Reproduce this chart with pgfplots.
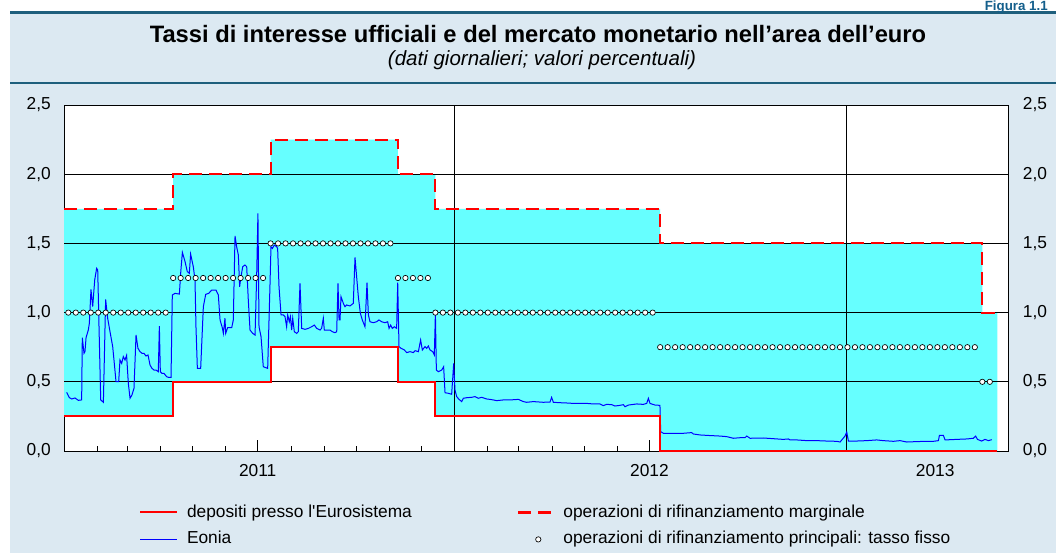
\documentclass[border=0pt]{standalone}
\usepackage{fontspec}
\setmainfont{Liberation Sans}
\usepackage{pgfplots}
\pgfplotsset{compat=1.18}
\definecolor{bgblue}{RGB}{220,233,242}
\definecolor{rulecol}{RGB}{30,95,125}
\definecolor{fillcyan}{RGB}{102,255,255}
\definecolor{figblue}{RGB}{20,95,140}

\begin{document}
\begin{tikzpicture}[x=0.75pt,y=-0.75pt]
\useasboundingbox (0,0) rectangle (1056,553);
\clip (0,0) rectangle (1056,553);
\fill[white] (0,0) rectangle (1056,553);
\fill[bgblue] (10,12) rectangle (1056,553);
\draw[rulecol, line width=1.9pt] (10,12.5) -- (1056,12.5);
\draw[rulecol, line width=1.1pt] (10,83) -- (1056,83);
\node[anchor=base east, inner sep=0pt, text=figblue, font=\fontsize{10}{12}\selectfont\bfseries] at (1048,10.5) {Figura 1.1};
\node[anchor=base, inner sep=0pt, font=\fontsize{17.8}{20}\selectfont\bfseries] at (538,42) {Tassi di interesse ufficiali e del mercato monetario nell’area dell’euro};
\node[anchor=base, inner sep=0pt, font=\fontsize{15.4}{18}\selectfont\itshape] at (542,65) {(dati giornalieri; valori percentuali)};

\begin{axis}[
  at={(48pt,-338.25pt)}, anchor=south west,
  scale only axis, width=708pt, height=259.5pt,
  xmin=0, xmax=882, ymin=0, ymax=2.5,
  clip=false,
  axis background/.style={fill=white},
  axis line style={black, line width=0.7pt},
  tick align=inside,
  xtick pos=left, ytick pos=left,
  xtick={181,547}, xticklabels={2011,2012},
  minor xtick={31,59,90,120,151,212,243,273,304,334,396,425,456,486,517,578,609,639,670,700,762,790,821,851},
  extra x ticks={814}, extra x tick labels={2013},
  extra x tick style={major tick length=0pt},
  major tick length=8.25pt, minor tick length=3.75pt,
  xtick style={black, line width=0.6pt},
  minor tick style={black, line width=0.6pt},
  ytick={0,0.5,1,1.5,2,2.5},
  yticklabels={{0,0},{0,5},{1,0},{1,5},{2,0},{2,5}},
  ytick style={draw=none},
  tick label style={font=\fontsize{13}{15}\selectfont},
  yticklabel style={anchor=east, inner sep=0pt, xshift=-9.75pt},
  xticklabel style={anchor=base, inner sep=0pt, yshift=-18.75pt},
  legend columns=2, legend cell align=left,
  legend style={at={(0,0)}, anchor=north west, xshift=56.25pt, yshift=-40pt,
    draw=none, fill=none, inner sep=0pt, outer sep=0pt,
    font=\fontsize{13}{15}\selectfont,
    nodes={inner sep=0pt, text height=9.5pt, text depth=2.7pt},
    column sep=6.75pt, row sep=8pt,
    /tikz/every even column/.append style={column sep=79pt}},
]
% corridor between deposit facility and marginal lending rate
\addplot[fill=fillcyan, draw=none, forget plot] coordinates {
(0,1.75)(102,1.75)(102,2)(193,2)(193,2.25)(312,2.25)(312,2)(347,2)(347,1.75)
(557,1.75)(557,1.5)(858,1.5)(858,1)(872,1)(872,0)(557,0)(557,0.25)(347,0.25)
(347,0.5)(312,0.5)(312,0.75)(193,0.75)(193,0.5)(102,0.5)(102,0.25)(0,0.25)} -- cycle;

% grid
\addplot[black, line width=0.6pt, forget plot] coordinates {(0,0.5)(882,0.5)};
\addplot[black, line width=0.6pt, forget plot] coordinates {(0,1)(882,1)};
\addplot[black, line width=0.6pt, forget plot] coordinates {(0,1.5)(882,1.5)};
\addplot[black, line width=0.6pt, forget plot] coordinates {(0,2)(882,2)};
\addplot[black, line width=0.6pt, forget plot] coordinates {(365,0)(365,2.5)};
\addplot[black, line width=0.6pt, forget plot] coordinates {(731,0)(731,2.5)};

% Eonia
\addplot[blue, line width=0.75pt, forget plot] coordinates {
(2.5,0.424)(5.0,0.386)(7.2,0.376)(10.3,0.383)(13.4,0.366)(16.5,0.369)(17.1,0.819)(18.7,0.706)
(19.6,0.718)(20.6,0.819)(22.7,0.874)(23.7,0.923)(25.2,1.168)(26.8,1.043)(28.7,1.236)(30.5,1.320)
(31.5,1.308)(33.0,0.802)(34.3,0.369)(36.8,0.352)(38.9,1.096)(40.8,0.959)(43.0,0.862)(45.5,0.754)
(47.0,0.633)(48.6,0.501)(51.1,0.501)(52.3,0.658)(53.9,0.633)(55.4,0.682)(57.0,0.658)(58.5,0.691)
(60.1,0.489)(61.7,0.381)(63.5,0.405)(65.4,0.453)(67.3,0.838)(69.1,0.742)(71.0,0.718)(72.9,0.706)
(74.7,0.706)(76.6,0.686)(78.5,0.694)(80.4,0.621)(82.2,0.597)(84.1,0.585)(86.0,0.585)(88.1,0.573)
(89.1,0.903)(90.0,0.573)(91.6,0.561)(93.4,0.561)(95.9,0.537)(97.8,0.532)(100.0,0.532)(101.2,1.127)
(103.7,1.139)(107.8,1.134)(109.0,1.284)(110.6,1.435)(113.1,1.368)(115.2,1.296)(117.1,1.284)(118.3,1.423)
(120.8,1.332)(122.4,1.236)(123.3,0.898)(124.6,0.597)(127.7,0.597)(130.2,1.043)(132.4,1.132)(135.2,1.139)
(138.0,1.163)(142.0,1.163)(144.2,1.127)(145.8,0.947)(147.9,0.891)(148.9,0.850)(150.4,0.959)(151.1,0.850)
(152.9,0.891)(156.7,0.891)(158.2,0.947)(159.8,1.554)(161.3,1.476)(162.9,1.416)(164.1,1.187)(165.1,1.248)
(167.0,1.332)(169.1,1.344)(170.7,1.332)(172.2,1.091)(173.8,0.874)(176.3,0.850)(178.5,0.838)(180.0,1.260)
(181.2,1.717)(182.2,0.898)(184.1,0.826)(186.2,0.609)(190.3,0.597)(192.5,1.211)(193.4,1.476)(194.7,1.464)
(196.5,1.488)(198.7,1.476)(199.6,1.464)(200.9,1.187)(202.8,0.983)(205.0,0.983)(206.5,0.971)(208.0,0.898)
(209.0,0.983)(210.5,0.934)(211.5,0.971)(212.7,0.874)(213.7,0.959)(215.2,0.862)(217.4,0.850)(218.9,0.862)
(220.5,1.211)(222.1,0.886)(225.2,0.879)(228.3,0.886)(231.4,0.898)(233.9,0.910)(236.1,0.886)(239.2,0.874)
(240.7,0.886)(242.3,0.959)(243.2,0.874)(245.4,0.874)(248.5,0.874)(250.7,0.862)(253.2,0.855)(254.8,0.862)
(256.0,1.211)(257.0,0.947)(257.9,0.947)(258.8,1.115)(261.0,1.067)(262.5,1.043)(264.1,1.055)(267.2,1.048)
(270.3,1.067)(271.9,1.399)(273.4,1.260)(275.0,1.115)(276.9,0.995)(278.7,0.947)(281.2,0.898)(283.1,1.216)
(284.4,0.983)(285.9,0.934)(289.0,0.927)(292.1,0.934)(294.3,0.947)(296.8,0.934)(299.9,0.927)(302.4,0.934)
(303.7,0.886)(305.2,0.910)(306.8,0.886)(308.6,0.898)(310.8,0.886)(311.8,1.216)(313.0,0.754)(314.9,0.742)
(318.0,0.730)(320.2,0.711)(323.3,0.718)(326.4,0.711)(328.0,0.725)(331.1,0.718)(333.2,0.802)(334.8,0.730)
(337.3,0.754)(338.9,0.742)(340.4,0.759)(342.0,0.730)(344.5,0.718)(346.0,0.694)(347.0,0.995)(347.9,0.585)
(349.8,0.573)(352.9,0.585)(354.7,0.609)(356.0,0.421)(359.1,0.417)(362.2,0.410)(364.1,0.633)(365.3,0.441)
(366.9,0.393)(369.1,0.373)(371.6,0.357)(373.1,0.381)(376.2,0.385)(380.9,0.388)(384.0,0.393)(387.1,0.381)
(390.2,0.388)(394.9,0.376)(398.0,0.373)(401.1,0.369)(404.2,0.364)(410.5,0.369)(416.7,0.369)(424.5,0.373)
(429.2,0.357)(432.3,0.352)(438.5,0.357)(447.8,0.352)(454.1,0.354)(455.6,0.388)(457.2,0.352)(463.4,0.349)
(469.6,0.347)(475.9,0.344)(482.1,0.344)(488.3,0.344)(494.6,0.340)(500.8,0.340)(503.9,0.328)(507.0,0.337)
(511.7,0.335)(514.8,0.325)(519.5,0.330)(522.6,0.335)(524.2,0.320)(527.3,0.332)(535.1,0.340)(541.3,0.337)
(544.4,0.344)(546.0,0.381)(547.5,0.344)(552.2,0.332)(556.8,0.330)(557.5,0.140)(560.0,0.128)(569.3,0.128)
(578.7,0.128)(586.4,0.133)(588.0,0.123)(594.2,0.116)(600.5,0.113)(612.9,0.108)(619.1,0.104)(625.4,0.092)
(631.6,0.096)(636.3,0.096)(637.9,0.108)(641.0,0.092)(653.4,0.094)(662.8,0.089)(672.1,0.084)(676.8,0.087)
(678.4,0.080)(684.6,0.080)(693.9,0.075)(703.3,0.075)(712.6,0.072)(722.0,0.070)(725.1,0.065)(729.7,0.108)
(731.3,0.137)(732.9,0.072)(740.6,0.072)(750.0,0.075)(759.3,0.080)(765.6,0.075)(774.9,0.070)(781.1,0.075)
(787.4,0.065)(796.7,0.068)(806.1,0.070)(812.3,0.070)(817.0,0.075)(817.9,0.113)(821.6,0.113)(823.2,0.080)
(834.1,0.084)(843.4,0.087)(849.6,0.092)(851.8,0.108)(853.4,0.084)(857.4,0.072)(860.5,0.084)(863.7,0.075)
(866.8,0.082)};

% deposit facility
\addplot[red, line width=1.5pt, forget plot] coordinates {
(0,0.25)(102,0.25)(102,0.5)(193,0.5)(193,0.75)(312,0.75)(312,0.5)(347,0.5)(347,0.25)
(557,0.25)(557,0)(872,0)};
% marginal lending facility
\addplot[red, line width=1.6pt, dash pattern=on 9.75pt off 5.25pt, forget plot] coordinates {
(0,1.75)(102,1.75)(102,2)(193,2)(193,2.25)(312,2.25)(312,2)(347,2)(347,1.75)
(557,1.75)(557,1.5)(858,1.5)(858,1)(872,1)};

% main refinancing operations, fixed rate
\addplot[only marks, mark=*, mark size=2pt, mark options={fill=white, draw=black, line width=0.5pt}, forget plot] coordinates {
(4,1)(11,1)(18,1)(25,1)(32,1)(39,1)(46,1)(53,1)(60,1)(67,1)(74,1)(81,1)(88,1)(95,1)
(102,1.25)(109,1.25)(116,1.25)(123,1.25)(130,1.25)(137,1.25)(144,1.25)(151,1.25)(158,1.25)(165,1.25)(172,1.25)(179,1.25)(186,1.25)
(193,1.5)(200,1.5)(207,1.5)(214,1.5)(221,1.5)(228,1.5)(235,1.5)(242,1.5)(249,1.5)(256,1.5)(263,1.5)(270,1.5)(277,1.5)(284,1.5)(291,1.5)(298,1.5)(305,1.5)
(312,1.25)(319,1.25)(326,1.25)(333,1.25)(340,1.25)
(347,1)(354,1)(361,1)(368,1)(375,1)(382,1)(389,1)(396,1)(403,1)(410,1)(417,1)(424,1)(431,1)(438,1)(445,1)
(452,1)(459,1)(466,1)(473,1)(480,1)(487,1)(494,1)(501,1)(508,1)(515,1)(522,1)(529,1)(536,1)(543,1)(550,1)
(557,0.75)(564,0.75)(571,0.75)(578,0.75)(585,0.75)(592,0.75)(599,0.75)(606,0.75)(613,0.75)(620,0.75)(627,0.75)
(634,0.75)(641,0.75)(648,0.75)(655,0.75)(662,0.75)(669,0.75)(676,0.75)(683,0.75)(690,0.75)(697,0.75)(704,0.75)
(711,0.75)(718,0.75)(725,0.75)(732,0.75)(739,0.75)(746,0.75)(753,0.75)(760,0.75)(767,0.75)(774,0.75)(781,0.75)
(788,0.75)(795,0.75)(802,0.75)(809,0.75)(816,0.75)(823,0.75)(830,0.75)(837,0.75)(844,0.75)(851,0.75)
(858,0.5)(865,0.5)};

\addlegendimage{legend image code/.code={\draw[red, line width=1.5pt] (0pt,0pt) -- (27.75pt,0pt);}}
\addlegendentry{depositi presso l\textquotesingle Eurosistema}
\addlegendimage{legend image code/.code={\draw[red, line width=1.6pt, dash pattern=on 9.75pt off 5.25pt] (0pt,0pt) -- (26.25pt,0pt);}}
\addlegendentry{operazioni di rifinanziamento marginale}
\addlegendimage{legend image code/.code={\draw[blue, line width=0.75pt] (0pt,0pt) -- (27.75pt,0pt);}}
\addlegendentry{Eonia}
\addlegendimage{legend image code/.code={\path[draw=none, fill=none] (0pt,0pt) rectangle (26.25pt,0.1pt); \draw[black, fill=white, line width=0.5pt] (15pt,0pt) circle (2pt);}}
\addlegendentry{operazioni di rifinanziamento principali: tasso fisso}
\end{axis}

\begin{axis}[
  at={(48pt,-338.25pt)}, anchor=south west,
  scale only axis, width=708pt, height=259.5pt,
  xmin=0, xmax=882, ymin=0, ymax=2.5,
  hide x axis, axis y line*=right,
  y axis line style={draw=none},
  ytick={0,0.5,1,1.5,2,2.5},
  yticklabels={{0,0},{0,5},{1,0},{1,5},{2,0},{2,5}},
  ytick style={draw=none},
  tick label style={font=\fontsize{13}{15}\selectfont},
  yticklabel style={anchor=west, inner sep=0pt, xshift=11pt},
]
\end{axis}
\end{tikzpicture}
\end{document}
